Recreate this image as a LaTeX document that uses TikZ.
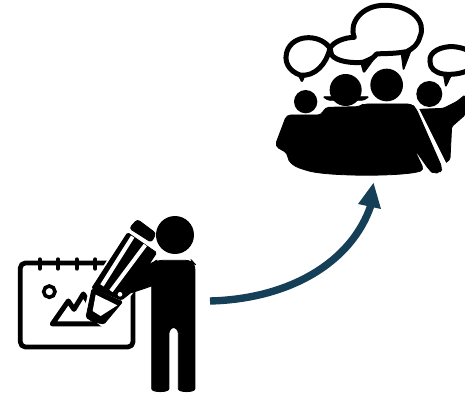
\documentclass[tikz,border=0pt]{standalone}
\definecolor{arrowblue}{HTML}{153E57}
\tikzset{
 outline/.style={draw=black,line width=#1,fill=white,line join=round},
 solid/.style={fill=black,draw=black,line width=0.8pt,line join=round,rounded corners=1.5pt},
 halo/.style={fill=white,draw=white,line width=#1,line join=round},
 ring/.style={draw=black,line width=4pt,line cap=round},
 zoomA/.style={shift={(0,200)},x=0.3333pt,y=-0.3333pt},
 zoomB/.style={shift={(265,0)},x=0.3333pt,y=-0.3333pt},
 zoomC/.style={shift={(80,210)},x=0.3333pt,y=-0.3333pt},
 zoomD/.style={shift={(270,60)},x=0.3333pt,y=-0.3333pt}
}
\begin{document}
\begin{tikzpicture}[x=1pt,y=-1pt]
\useasboundingbox (0,0) rectangle (465,395);
% writer
\begin{scope}[zoomA]
 \draw[outline=4.8pt,rounded corners=5pt] (61,189) rectangle (399,441);
 \foreach \x in {119,174,230,286}{\draw[ring] (\x,178) -- (\x,206);}
 \draw[draw=black,line width=3.6pt,fill=white] (148,275) circle (17);
 % mountain
 \draw[black,line width=5pt,line join=round,fill=white] (157,372) -- (205,303) -- (222,328) -- (250,282) -- (285,340) -- (305,372) -- cycle;
 % body and legs
 \path[solid,rounded corners=6pt] (455,190) -- (470,181) -- (575,181) -- (585,192) -- (585,548)
   .. controls (585,578) and (535,578) .. (535,548) -- (535,382) -- (507,382) -- (507,548)
   .. controls (507,578) and (455,578) .. (455,548) -- cycle;
\end{scope}
\begin{scope}[zoomC]
 % white halo around pencil
 \path[halo=4.5pt] (172,28) -- (230,72) -- (232,128) -- (150,250) -- (70,345) -- (18,305) -- (35,235) -- (143,68) -- cycle;
 % arm
 \path[solid] (112,222) -- (150,195) -- (232,150) -- (232,222) -- (180,240) -- (148,250) -- (120,262) -- cycle;
 % head
 \fill[white] (225,75) circle (59);
 \fill[black] (285,75) circle (57);
 % pencil: eraser, body with stripes, collar, tip
 \path[solid,rounded corners=3pt] (172,28) -- (228,70) -- (214,97) -- (148,55) -- cycle;
 \path[solid] (143,68) -- (230,128) -- (150,250) -- (125,270) -- (35,235) -- cycle;
 \draw[white,line width=4pt] (158,80) -- (66,226);
 \draw[white,line width=4pt] (196,105) -- (93,243);
 \fill[white] (120,253) circle (7);
 \path[solid] (36,236) -- (128,275) -- (72,342) -- (40,336) -- (18,322) -- cycle;
 \path[fill=white] (47,254) -- (112,286) -- (62,318) -- (38,303) -- cycle;
\end{scope}
% group
\begin{scope}[zoomB]
 % bubbles
 \draw[outline=5pt] (195,145) .. controls (170,105) and (95,100) .. (70,145)
   .. controls (50,185) and (75,215) .. (105,225)
   .. controls (150,232) and (185,190) .. (195,145) -- cycle;
 \path[solid] (98,222) -- (111,248) -- (122,222) -- cycle;
 \draw[outline=5pt] (195,145) .. controls (205,125) and (240,112) .. (268,112)
   .. controls (250,70) and (290,15) .. (360,16)
   .. controls (440,16) and (485,65) .. (465,110)
   .. controls (458,135) and (445,145) .. (425,155)
   .. controls (385,162) and (355,160) .. (335,162)
   .. controls (320,180) and (300,187) .. (295,187)
   .. controls (260,190) and (215,185) .. (200,165) -- cycle;
 \path[solid] (408,155) -- (415,212) -- (440,148) -- cycle;
 \path[solid] (286,184) -- (296,220) -- (340,160) -- cycle;
 \draw[outline=5pt] (495,185) .. controls (490,155) and (530,138) .. (565,140)
   .. controls (590,142) and (615,150) .. (620,165) -- (620,205)
   .. controls (595,222) and (560,225) .. (535,222)
   .. controls (510,218) and (495,205) .. (495,185) -- cycle;
 \path[solid] (535,222) -- (542,262) -- (562,220) -- cycle;
\end{scope}
\begin{scope}[zoomD]
 % heads
 \fill[black] (107,125) circle (35);
 \fill[black] (227,90) circle (48);
 \path[solid] (158,110) -- (298,110) -- (280,121) -- (175,121) -- cycle;
 \fill[black] (350,75) circle (49);
 \fill[black] (478,102) circle (39);
 % back figure
 \path[solid] (445,148) -- (520,145) -- (560,125) -- (585,105) -- (585,165) -- (545,200) -- (540,298) -- (525,310) -- cycle;
 \draw[white,line width=3pt] (438,138) -- (528,318);
 % table and front figures
 \path[solid,rounded corners=4pt] (50,165) -- (155,165) -- (165,142) -- (270,140) -- (280,132) -- (425,132) -- (438,145)
   -- (517,325) -- (510,338) -- (490,340) -- (478,330) -- (430,262) -- (428,258) -- (462,330)
   .. controls (400,350) and (170,350) .. (100,328)
   .. controls (70,318) and (55,305) .. (53,280) -- (15,258) -- cycle;
\end{scope}
% arrow
\coordinate (from) at (210,301);
\coordinate (tipend) at (371,205);
\coordinate (tip) at (373.5,183);
\coordinate (headl) at (358,204);
\coordinate (headr) at (381,209);
\draw[arrowblue,line width=7.4pt] (from) .. controls (290,299) and (352,262) .. (tipend);
\fill[arrowblue] (tip) -- (headl) -- (headr) -- cycle;
\end{tikzpicture}
\end{document}
